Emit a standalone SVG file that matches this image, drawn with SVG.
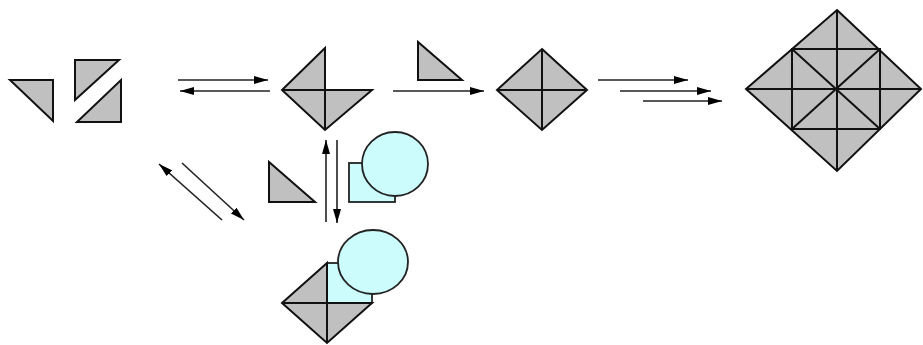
<svg xmlns="http://www.w3.org/2000/svg" width="923" height="345" viewBox="0 0 923 345">
  <defs>
    <marker id="head" markerUnits="userSpaceOnUse" markerWidth="14" markerHeight="8" refX="14" refY="4" orient="auto">
      <path d="M0,0 L14,4 L0,8 z" fill="#000"/>
    </marker>
    <style>
      .tri { fill: #c0c0c0; stroke: #111; stroke-width: 2; stroke-linejoin: miter; }
      .ln { fill: none; stroke: #111; stroke-width: 2; }
      .blue { fill: #ccfcfc; stroke: #222; stroke-width: 1.8; }
      .arrow { fill: none; stroke: #222; stroke-width: 1.6; marker-end: url(#head); }
    </style>
  </defs>
  <rect width="923" height="345" fill="#fff"/>

  <!-- three loose triangles -->
  <g id="pieces-start">
    <polygon class="tri" points="10,80 53,80 53,121"/>
    <polygon class="tri" points="75,60 119,60 75,100"/>
    <polygon class="tri" points="121,80 121,122 77,122"/>
  </g>

  <!-- three-quarter square -->
  <g id="three-quarter">
    <polygon class="tri" points="325,48 282,90 325,130 372,90 325,90"/>
    <line class="ln" x1="325" y1="48" x2="325" y2="130"/>
    <line class="ln" x1="282" y1="90" x2="372" y2="90"/>
  </g>

  <!-- single triangle to add -->
  <g id="add-piece">
    <polygon class="tri" points="418,42 418,80 462,80"/>
  </g>

  <!-- complete square of four triangles -->
  <g id="square-four">
    <polygon class="tri" points="542,49 587,90 542,130 497,90"/>
    <line class="ln" x1="542" y1="49" x2="542" y2="130"/>
    <line class="ln" x1="497" y1="90" x2="587" y2="90"/>
  </g>

  <!-- large square of sixteen triangles -->
  <g id="square-sixteen">
    <polygon class="tri" points="837,10 921,89 837,171 746,89"/>
    <line class="ln" x1="837" y1="10" x2="837" y2="171"/>
    <line class="ln" x1="746" y1="89" x2="921" y2="89"/>
    <polygon class="ln" points="792,49 880,49 880,129 792,129"/>
    <line class="ln" x1="792" y1="49" x2="880" y2="129"/>
    <line class="ln" x1="880" y1="49" x2="792" y2="129"/>
  </g>

  <!-- triangle beside the vertical arrows -->
  <g id="side-piece">
    <polygon class="tri" points="269,162 269,202 315,202"/>
  </g>

  <!-- square piece with circle -->
  <g id="square-circle">
    <rect class="blue" x="349" y="163" width="46" height="39" stroke="#111"/>
    <ellipse class="blue" cx="395" cy="164" rx="33" ry="32"/>
  </g>

  <!-- three-quarter square with square piece and circle -->
  <g id="combined">
    <polygon class="tri" points="327,263 282,303 327,343 372,303 327,303"/>
    <rect class="blue" x="327" y="263" width="45" height="40" stroke="#111" stroke-width="2"/>
    <line class="ln" x1="327" y1="263" x2="327" y2="343"/>
    <line class="ln" x1="282" y1="303" x2="372" y2="303"/>
    <ellipse class="blue" cx="373" cy="262" rx="35" ry="32"/>
  </g>

  <g id="connectors">
    <line class="arrow" x1="178" y1="80" x2="268" y2="80"/>
    <line class="arrow" x1="270" y1="91" x2="180" y2="91"/>
    <line class="arrow" x1="393" y1="91" x2="484" y2="91"/>
    <line class="arrow" x1="598" y1="80" x2="688" y2="80"/>
    <line class="arrow" x1="620" y1="91" x2="711" y2="91"/>
    <line class="arrow" x1="643" y1="101" x2="722" y2="101"/>
    <line class="arrow" x1="222" y1="220" x2="159" y2="164"/>
    <line class="arrow" x1="182" y1="163" x2="244" y2="220"/>
    <line class="arrow" x1="326" y1="222" x2="326" y2="140"/>
    <line class="arrow" x1="337" y1="140" x2="337" y2="223"/>
  </g>
</svg>
